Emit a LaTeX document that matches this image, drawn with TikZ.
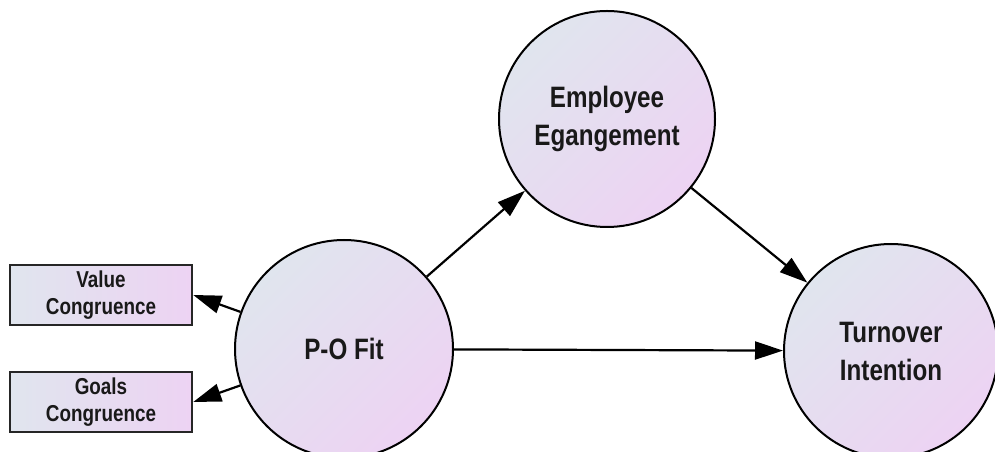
\documentclass[tikz,border=0pt]{standalone}
\usepackage{fontspec}
\setmainfont{Liberation Sans}[FakeStretch=0.82]
\usetikzlibrary{arrows.meta}
\definecolor{blu}{RGB}{224,229,238}
\definecolor{lav}{RGB}{237,211,243}
\definecolor{txt}{RGB}{25,25,25}
\tikzset{
  construct/.style={circle, draw=black, line width=2pt, inner sep=0pt,
    minimum size=#1, top color=blu, bottom color=lav, shading angle=45,
    align=center, text=txt, font=\fontsize{29.5}{38}\selectfont\bfseries},
  indicator/.style={rectangle, draw=black!85, line width=2.5pt, inner sep=0pt,
    minimum width=182pt, minimum height=60pt, left color=blu, right color=lav,
    align=center, text=txt, font=\fontsize{23}{27}\selectfont\bfseries},
  link/.style={line width=2.2pt, -{Triangle[length=28pt,width=18pt]}}
}
\begin{document}
\begin{tikzpicture}[x=1pt,y=1pt]
\useasboundingbox (0,0) rectangle (995,452);
\node[construct=218pt] (po) at (344,103) {P-O Fit};
\node[construct=216pt] (ee) at (607,333) {Employee\\Egangement};
\node[construct=214pt] (ti) at (891,101) {Turnover\\Intention};
\node[indicator] (vc) at (101,157) {Value\\Congruence};
\node[indicator] (gc) at (101,50) {Goals\\Congruence};
\draw[link] (po) -- (vc.east);
\draw[link] (po) -- (gc.east);
\draw[link] (po) -- (ee);
\draw[link] (po) -- (ti);
\draw[link] (ee) -- (ti);
\end{tikzpicture}
\end{document}
